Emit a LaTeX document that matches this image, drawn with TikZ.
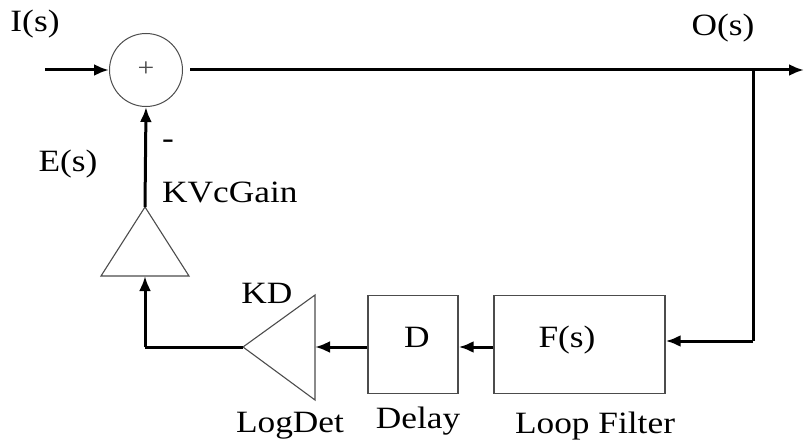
\documentclass[tikz,border=0pt]{standalone}
\usepackage{fontspec}
\setmainfont{Liberation Serif}[FakeStretch=1.14]
\usetikzlibrary{arrows.meta}
\begin{document}
\begin{tikzpicture}[x=1pt,y=-1pt,
  sig/.style={line width=3pt,-{Latex[length=15pt,width=12pt]}},
  wire/.style={line width=3pt},
  blk/.style={draw=black!70,line width=1.4pt,inner sep=0pt},
  tri/.style={draw=black!70,line width=1.1pt,line join=miter},
  txt/.style={inner sep=0pt,anchor=base,font=\fontsize{31}{36}\selectfont}]
\useasboundingbox (0,0) rectangle (804,444);
% summing junction
\node[draw=black!70,line width=1pt,circle,minimum size=73pt,inner sep=0pt] (sum) at (146,70) {};
\node[inner sep=0pt,font=\fontsize{26}{30}\selectfont,text=black!70] at (146,69) {+};
% blocks
\node[blk,minimum width=171pt,minimum height=98pt] (F) at (579.5,344.5) {};
\node[blk,minimum width=90pt,minimum height=98pt] (D) at (413,344.5) {};
% triangles
\coordinate (kdtip) at (243,347);
\coordinate (kdtop) at (315,295);
\coordinate (kdbot) at (315,400);
\draw[tri] (kdtip) -- (kdtop) -- (kdbot) -- cycle;
\coordinate (kdin) at (315,347);
\coordinate (kvapex) at (145,207);
\coordinate (kvl) at (101,276);
\coordinate (kvr) at (189,276);
\draw[tri] (kvapex) -- (kvl) -- (kvr) -- cycle;
\coordinate (kvin) at (145,276);
% coordinates for wires
\coordinate (in) at (45,70);
\coordinate (outs) at (190,70);
\coordinate (out) at (804,70);
\coordinate (br) at (753,70);
\coordinate (brd) at (753,341);
\coordinate (corner) at (145,347);
% connectors
\draw[sig] (in) -- (sum.west);
\draw[sig] (outs) -- (out);
\draw[wire] (br) -- (brd);
\draw[sig] (brd) -- (F.east |- brd);
\draw[sig] (F.west |- kdtip) -- (D.east |- kdtip);
\draw[sig] (D.west |- kdtip) -- (kdin);
\draw[wire] (kdtip) -- (corner);
\draw[sig] (corner) -- (kvin);
\draw[sig] (kvapex) -- (sum.south);
% labels
\node[txt] (lI) at (35,32) {I(s)};
\node[txt] (lO) at (723,36) {O(s)};
\node[txt] (lE) at (68,171) {E(s)};
\node[txt] (lm) at (168,148) {-};
\node[txt,anchor=base west] (lKV) at (162,202) {KVcGain};
\node[txt] (lKD) at (267,303) {KD};
\node[txt] (lD) at (417,347) {D};
\node[txt] (lF) at (567,347) {F(s)};
\node[txt] (lLD) at (290,432) {LogDet};
\node[txt] (lDe) at (418,428) {Delay};
\node[txt] (lLF) at (595,433) {Loop Filter};
\end{tikzpicture}
\end{document}
